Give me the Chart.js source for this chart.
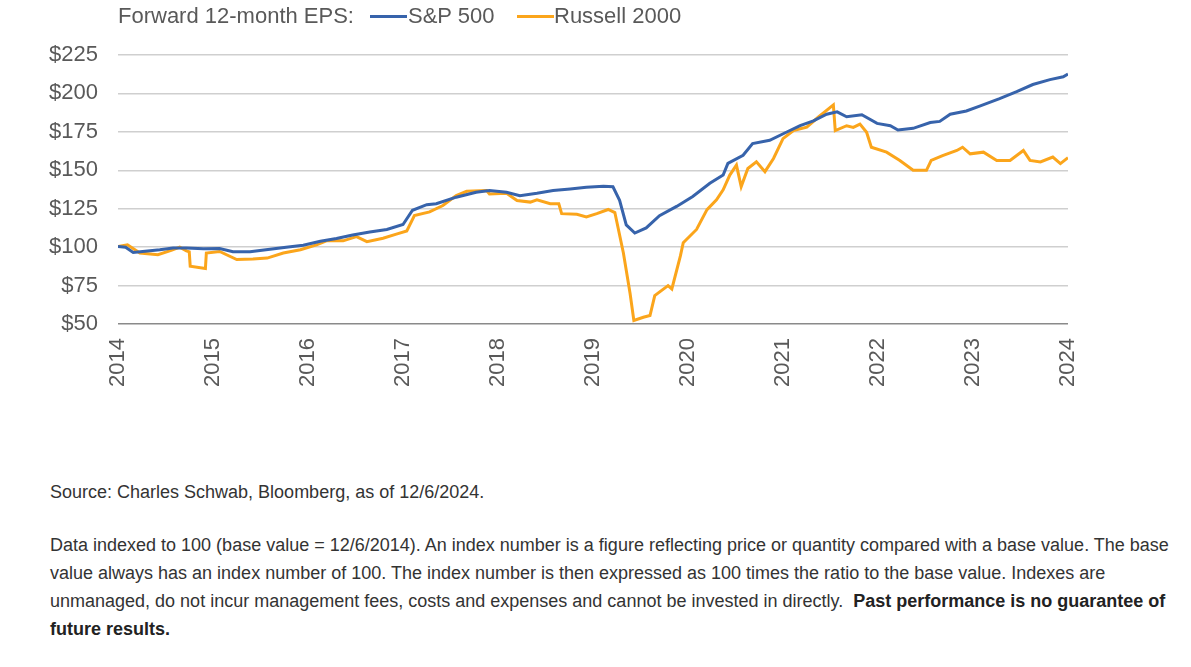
<!DOCTYPE html>
<html>
<head>
<meta charset="utf-8">
<script src="https://cdn.jsdelivr.net/npm/chart.js@4/dist/chart.umd.min.js"></script>
<style>
  body { margin: 0; background: #fff; font-family: "Liberation Sans", Arial, sans-serif; }
  #wrap { position: absolute; left: 0; top: 0; width: 1191px; height: 410px; }
  .lg { position: absolute; top: 3px; font-size: 22px; line-height: 26px; color: #595959; white-space: nowrap; }
  .dash { position: absolute; top: 15px; height: 3px; width: 37px; }
  .note { position: absolute; left: 50px; font-size: 18px; color: #333; white-space: nowrap; }
  b { color: #222; }
</style>
</head>
<body>
<div id="wrap"><canvas id="myChart" width="1191" height="410"></canvas></div>

<div class="lg" style="left:118px">Forward 12-month EPS:</div>
<div class="dash" style="left:370px;background:#3763ab"></div>
<div class="lg" style="left:408px">S&amp;P 500</div>
<div class="dash" style="left:517px;background:#fba51b"></div>
<div class="lg" style="left:554px">Russell 2000</div>

<div class="note" style="top:480px;line-height:24px">Source: Charles Schwab, Bloomberg, as of 12/6/2024.</div>
<div class="note" style="top:531px;line-height:28px">
Data indexed to 100 (base value = 12/6/2014). An index number is a figure reflecting price or quantity compared with a base value. The base<br>
value always has an index number of 100. The index number is then expressed as 100 times the ratio to the base value. Indexes are<br>
unmanaged, do not incur management fees, costs and expenses and cannot be invested in directly.&nbsp; <b>Past performance is no guarantee of</b><br>
<b>future results.</b>
</div>

<script>
// axis
const yearTicks = [2014, 2015, 2016, 2017, 2018, 2019, 2020, 2021, 2022, 2023, 2024];

// S&P 500 forward EPS (indexed)
const spxDates = [
  2014.00, 2014.08, 2014.16, 2014.26, 2014.44, 2014.58, 2014.72, 2014.90, 2015.07, 2015.21,
  2015.39, 2015.60, 2015.77, 2015.95, 2016.13, 2016.30, 2016.47, 2016.65, 2016.83, 2017.00,
  2017.10, 2017.25, 2017.35, 2017.56, 2017.77, 2017.91, 2018.09, 2018.23, 2018.41, 2018.58,
  2018.76, 2018.93, 2019.11, 2019.21, 2019.28, 2019.35, 2019.44, 2019.56, 2019.70, 2019.88,
  2020.05, 2020.23, 2020.37, 2020.42, 2020.58, 2020.68, 2020.86, 2021.04, 2021.18, 2021.32,
  2021.46, 2021.57, 2021.67, 2021.83, 2021.99, 2022.13, 2022.21, 2022.37, 2022.55, 2022.65,
  2022.76, 2022.93, 2023.07, 2023.28, 2023.46, 2023.63, 2023.81, 2023.95, 2024.00
];
const spxEps = [
  100.4, 100.0, 96.6, 97.2, 98.3, 99.4, 99.4, 98.9, 99.1, 97.0,
  97.0, 98.7, 100.0, 101.3, 103.8, 105.6, 107.9, 109.8, 111.5, 114.7,
  124.0, 127.6, 128.2, 132.5, 135.7, 136.8, 135.7, 133.5, 135.0, 136.8,
  137.8, 138.9, 139.6, 139.3, 130.5, 114.5, 109.2, 112.5, 120.5, 126.5,
  133.0, 141.6, 146.9, 154.5, 159.8, 167.4, 169.5, 174.9, 179.0, 182.2,
  186.5, 188.0, 184.8, 186.1, 180.5, 179.0, 176.2, 177.3, 181.1, 181.8,
  186.5, 188.6, 191.8, 196.6, 201.1, 205.8, 209.0, 210.8, 212.7
];

// Russell 2000 forward EPS (indexed)
const rutDates = [
  2014.00, 2014.10, 2014.23, 2014.42, 2014.56, 2014.65, 2014.72, 2014.75, 2014.76, 2014.92,
  2014.93, 2015.07, 2015.25, 2015.42, 2015.57, 2015.74, 2015.92, 2016.09, 2016.20, 2016.37,
  2016.51, 2016.62, 2016.79, 2016.93, 2017.04, 2017.12, 2017.28, 2017.42, 2017.56, 2017.67,
  2017.88, 2017.91, 2018.09, 2018.20, 2018.34, 2018.41, 2018.55, 2018.64, 2018.67, 2018.83,
  2018.93, 2019.04, 2019.16, 2019.23, 2019.32, 2019.39, 2019.43, 2019.53, 2019.60, 2019.65,
  2019.79, 2019.83, 2019.92, 2019.95, 2020.09, 2020.20, 2020.30, 2020.37, 2020.44, 2020.51,
  2020.56, 2020.63, 2020.72, 2020.81, 2020.90, 2021.00, 2021.11, 2021.25, 2021.37, 2021.53,
  2021.55, 2021.67, 2021.74, 2021.81, 2021.88, 2021.93, 2022.09, 2022.23, 2022.37, 2022.51,
  2022.56, 2022.68, 2022.83, 2022.89, 2022.97, 2023.11, 2023.25, 2023.39, 2023.53, 2023.60,
  2023.71, 2023.84, 2023.92, 2024.00
];
const rutEps = [
  100.4, 101.5, 96.2, 95.1, 97.9, 100.0, 97.6, 97.0, 87.6, 86.1,
  96.2, 97.2, 91.9, 92.3, 92.9, 96.2, 98.3, 101.5, 104.3, 104.1,
  106.8, 103.6, 105.8, 108.5, 110.5, 120.5, 122.9, 127.1, 133.5, 136.3,
  136.8, 134.6, 135.0, 130.3, 129.3, 130.8, 128.2, 128.2, 121.8, 121.4,
  119.7, 121.8, 124.5, 122.5, 96.2, 70.0, 52.3, 54.4, 55.5, 68.5,
  75.0, 72.8, 94.3, 102.9, 111.5, 124.4, 130.8, 137.3, 146.9, 153.4,
  139.4, 151.2, 155.5, 149.1, 157.7, 170.6, 175.9, 178.1, 184.5, 192.5,
  175.8, 179.0, 177.9, 180.0, 174.7, 165.0, 161.8, 156.4, 150.0, 150.0,
  156.4, 159.6, 162.9, 165.0, 160.7, 161.8, 156.4, 156.4, 162.9, 156.4,
  155.4, 158.6, 154.3, 158.2
];

const toPoints = (xs, ys) => xs.map((x, i) => ({ x: x, y: ys[i] }));

const ctx = document.getElementById("myChart").getContext('2d');
const myChart = new Chart(ctx, {
  type: 'line',
  data: {
    datasets: [
      { label: 'S&P 500', data: toPoints(spxDates, spxEps), borderColor: '#3763ab', borderWidth: 3, pointRadius: 0, tension: 0 },
      { label: 'Russell 2000', data: toPoints(rutDates, rutEps), borderColor: '#fba51b', borderWidth: 3, pointRadius: 0, tension: 0 }
    ]
  },
  options: {
    responsive: false,
    animation: false,
    devicePixelRatio: 1,
    layout: { padding: { top: 55, right: 123, left: 0, bottom: 0 } },
    plugins: { legend: { display: false }, tooltip: { enabled: false } },
    scales: {
      x: {
        type: 'linear',
        min: 2014, max: 2024,
        afterBuildTicks: (s) => { s.ticks = yearTicks.map(v => ({ value: v })); },
        afterFit: (s) => { s.height = 86; },
        grid: { display: false, drawTicks: false },
        border: { display: false },
        ticks: {
          minRotation: 90, maxRotation: 90, padding: 14,
          color: '#595959', font: { family: 'Liberation Sans', size: 22 },
          callback: (v) => String(v)
        }
      },
      y: {
        min: 50, max: 225,
        afterFit: (s) => { s.width = 118; },
        grid: {
          drawTicks: false, lineWidth: 1.5,
          color: (c) => c.tick.value === 50 ? '#8a8a8a' : '#cfcfcf'
        },
        border: { display: false },
        ticks: {
          stepSize: 25, padding: 20,
          color: '#595959', font: { family: 'Liberation Sans', size: 22 },
          callback: (v) => '$' + v
        }
      }
    }
  }
});
</script>
</body>
</html>
